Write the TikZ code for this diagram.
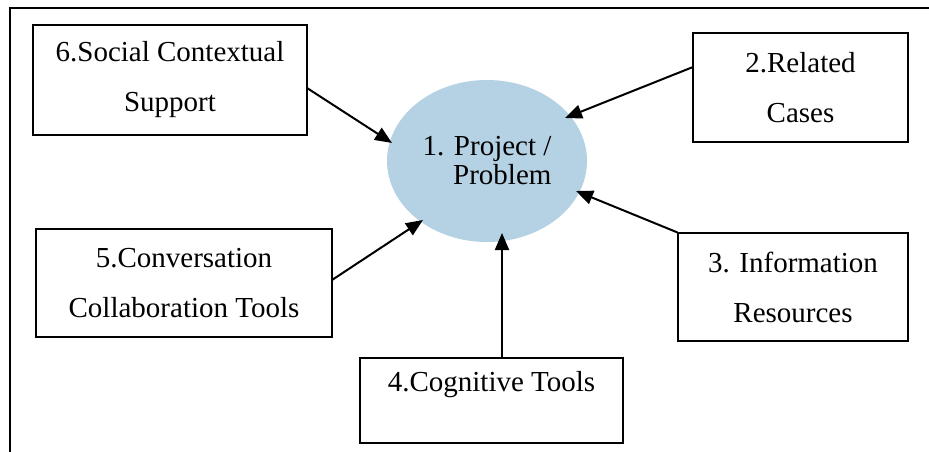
\documentclass[tikz,border=0pt]{standalone}
\usepackage{fontspec}
\setmainfont{Liberation Serif}
\usetikzlibrary{arrows.meta,shapes.geometric}
\definecolor{ellblue}{RGB}{180,210,228}
\tikzset{
  box/.style={draw, line width=1.1pt, inner sep=0pt, align=center,
    font=\fontsize{29}{50}\selectfont},
  conn/.style={line width=2pt, -{Triangle[length=17pt,width=14pt]}},
  frame/.style={line width=1.8pt}
}
\begin{document}
\begin{tikzpicture}[x=1pt,y=-1pt]
\useasboundingbox (0,0) rectangle (929,452);
\coordinate (fa) at (10,452);
\coordinate (fb) at (10,8);
\coordinate (fc) at (929,8);
\draw[frame] (fa) -- (fb) -- (fc);

\node[fill=ellblue, ellipse, minimum width=200pt, minimum height=162pt, inner sep=0pt,
  align=right, font=\fontsize{29}{29}\selectfont] (ell) at (487,161) {1. Project /\\Problem};

\node[box, minimum width=274pt, minimum height=110pt] (box6) at (170,80) {6.Social Contextual\\Support};
\node[box, minimum width=215pt, minimum height=109pt] (box2) at (800.5,87.5) {2.Related\\Cases};
\node[box, minimum width=230pt, minimum height=108pt] (box3) at (793,287) {3. Information\\Resources};
\node[box, minimum width=296pt, minimum height=108pt] (box5) at (184,283) {5.Conversation\\Collaboration Tools};
\node[box, minimum width=263pt, minimum height=85pt] (box4) at (491.5,400.5) {};
\node[font=\fontsize{29}{50}\selectfont, inner sep=0pt] (t4) at ([shift={(0,-15.5)}]box4.center) {4.Cognitive Tools};

\draw[conn] ([shift={(137,8)}]box6.center) -- ([shift={(-95,-18)}]ell.center);
\draw[conn] ([shift={(-107.5,-20.5)}]box2.center) -- ([shift={(78,-43)}]ell.center);
\draw[conn] (box3.north west) -- ([shift={(89,30)}]ell.center);
\draw[conn] ([shift={(148,-3)}]box5.center) -- ([shift={(-64,59)}]ell.center);
\draw[conn] ([shift={(10.5,-42.5)}]box4.center) -- ([shift={(15,72)}]ell.center);
\end{tikzpicture}
\end{document}
